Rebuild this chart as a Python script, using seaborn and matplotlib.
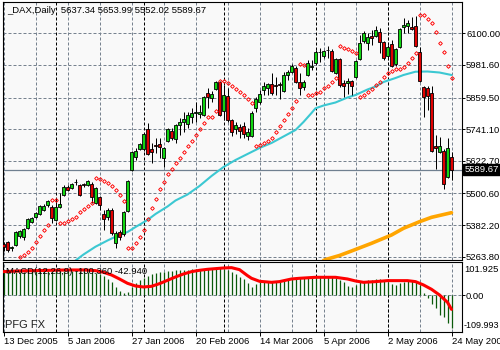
import numpy as np
import matplotlib
matplotlib.use("Agg")
import matplotlib.pyplot as plt
import seaborn as sns

# ---------------- data ----------------
chart_title = "_DAX,Daily  5637.34 5653.99 5552.02 5589.67"
macd_title = "MACD(12,26,9) -100.360 -42.940"
watermark = "PFG FX"

date_labels = ["13 Dec 2005", "5 Jan 2006", "27 Jan 2006", "20 Feb 2006",
               "14 Mar 2006", "5 Apr 2006", "2 May 2006", "24 May 2006"]
date_label_bars = [0, 16, 32, 48, 64, 80, 96, 112]
month_start_bars = [13, 35, 55, 78, 96]

open_px = [5311.3, 5317.7, 5294.5, 5306.4, 5341.3, 5337.5, 5370.1, 5393.7, 5413.5, 5423.6,
           5438.6, 5458.4, 5450.9, 5401.1, 5448.7, 5494.7, 5525.8, 5522.0, 5542.2, 5532.1,
           5534.8, 5532.1, 5535.9, 5465.9, 5488.3, 5423.6, 5413.5, 5438.6, 5313.9, 5356.2,
           5347.6, 5436.0, 5588.3, 5638.1, 5665.8, 5665.8, 5741.8, 5666.9, 5681.9, 5685.6,
           5632.1, 5698.0, 5734.3, 5704.3, 5756.7, 5766.8, 5759.4, 5787.8, 5801.6, 5799.0,
           5794.2, 5875.4, 5858.9, 5891.5, 5916.5, 5809.1, 5866.4, 5775.4, 5741.8, 5750.4,
           5754.1, 5715.6, 5716.7, 5819.2, 5844.0, 5887.7, 5894.1, 5910.2, 5906.5, 5910.2,
           5885.1, 5943.9, 5956.2, 5969.0, 5918.8, 5897.8, 5943.9, 5972.7, 5989.9, 6030.0,
           6015.0, 6036.3, 6034.8, 5952.5, 6002.6, 5912.8, 5912.8, 5921.4, 5937.5, 6002.6,
           6071.1, 6062.5, 6089.9, 6089.9, 6106.0, 6066.3, 6015.0, 6058.8, 5983.9, 6049.8,
           6124.7, 6128.4, 6122.4, 6127.3, 6031.1, 5897.8, 5895.2, 5875.4, 5679.2, 5656.8,
           5659.4, 5561.0, 5637.34]
high_px = [5320.0, 5323.7, 5305.0, 5360.0, 5363.7, 5371.2, 5406.8, 5412.4, 5432.2, 5457.3,
           5459.9, 5476.0, 5457.3, 5479.7, 5503.3, 5530.3, 5532.1, 5539.6, 5553.5, 5535.9,
           5539.6, 5550.9, 5543.4, 5524.7, 5492.8, 5438.6, 5446.1, 5446.1, 5360.0, 5363.7,
           5434.8, 5552.7, 5659.4, 5670.6, 5691.2, 5726.8, 5763.1, 5688.2, 5708.1, 5706.9,
           5674.4, 5745.5, 5744.4, 5760.5, 5781.8, 5804.3, 5805.4, 5820.4, 5843.9, 5831.6,
           5865.3, 5894.1, 5884.0, 5923.3, 5921.4, 5906.5, 5894.1, 5781.0, 5768.0, 5760.5,
           5768.0, 5745.5, 5807.3, 5861.5, 5887.7, 5918.8, 5913.9, 5950.2, 5937.5, 5918.8,
           5956.2, 5962.6, 5985.0, 5977.6, 5950.2, 5925.2, 6000.0, 6000.0, 6037.5, 6043.8,
           6037.5, 6052.4, 6041.2, 6007.5, 6007.5, 5925.2, 5931.5, 5925.2, 6000.0, 6093.6,
           6108.6, 6100.0, 6112.3, 6127.3, 6118.7, 6071.1, 6056.2, 6074.9, 6044.9, 6119.8,
           6156.1, 6149.7, 6159.8, 6165.8, 6049.8, 5902.7, 5902.7, 5902.7, 5719.3, 5713.0,
           5666.9, 5706.9, 5653.99]
low_px = [5286.2, 5282.5, 5286.2, 5303.8, 5333.8, 5326.3, 5367.5, 5389.9, 5409.7, 5419.9,
          5434.8, 5450.9, 5389.9, 5397.4, 5446.1, 5491.0, 5509.7, 5517.2, 5532.1, 5491.0,
          5524.7, 5528.4, 5464.8, 5461.0, 5438.6, 5363.7, 5401.1, 5345.0, 5295.2, 5326.3,
          5341.3, 5431.1, 5584.6, 5625.7, 5661.3, 5659.4, 5644.4, 5615.6, 5651.9, 5632.1,
          5600.6, 5693.1, 5700.6, 5688.2, 5719.3, 5731.6, 5745.5, 5764.2, 5769.1, 5782.9,
          5790.4, 5819.2, 5842.8, 5887.7, 5790.4, 5775.4, 5768.0, 5716.7, 5723.0, 5708.1,
          5708.1, 5700.6, 5711.8, 5805.4, 5835.3, 5869.0, 5869.0, 5869.0, 5869.0, 5852.9,
          5880.2, 5925.2, 5951.4, 5913.9, 5869.0, 5887.7, 5940.1, 5962.6, 5986.9, 5993.7,
          6007.5, 6006.4, 5955.1, 5947.6, 5900.8, 5862.6, 5871.6, 5869.0, 5934.5, 6000.0,
          6063.7, 6037.5, 6056.2, 6086.1, 6025.1, 6000.0, 6007.5, 5973.8, 5977.6, 6044.9,
          6101.1, 6102.2, 6112.3, 6048.7, 5919.5, 5787.8, 5812.9, 5657.5, 5590.9, 5651.9,
          5516.1, 5558.4, 5552.02]
close_px = [5300.1, 5288.9, 5300.1, 5357.3, 5360.0, 5367.5, 5403.8, 5408.6, 5427.3, 5453.5,
            5453.5, 5472.2, 5407.5, 5449.8, 5461.0, 5525.8, 5513.4, 5535.9, 5544.5, 5494.7,
            5532.9, 5547.1, 5486.1, 5519.8, 5457.3, 5404.9, 5438.6, 5351.4, 5351.4, 5336.4,
            5430.0, 5548.2, 5654.5, 5659.4, 5685.6, 5723.0, 5648.2, 5654.5, 5678.9, 5673.3,
            5669.5, 5741.8, 5709.2, 5756.7, 5766.8, 5779.2, 5794.2, 5802.8, 5804.3, 5806.5,
            5860.4, 5862.6, 5871.6, 5918.8, 5794.2, 5869.0, 5775.4, 5729.4, 5756.7, 5734.3,
            5723.0, 5731.6, 5802.8, 5852.9, 5871.6, 5902.7, 5910.2, 5877.6, 5904.2, 5908.0,
            5943.9, 5956.2, 5977.6, 5918.8, 5894.1, 5918.8, 5989.9, 5978.7, 6031.1, 6031.8,
            6033.7, 6038.2, 5960.0, 6002.6, 5906.5, 5902.7, 5921.4, 5903.8, 5996.3, 6062.5,
            6100.0, 6085.0, 6081.2, 6112.3, 6068.5, 6006.4, 6049.8, 5977.6, 6041.2, 6114.9,
            6131.0, 6139.6, 6114.9, 6053.5, 5922.5, 5860.4, 5865.3, 5660.5, 5669.5, 5679.2,
            5534.8, 5669.5, 5589.67]

# Parabolic SAR (first few points fall below the visible price range)
sar_px = [None, None, None, None, 5261.5, 5269.0, 5282.5, 5298.2, 5318.8, 5340.1,
          5362.6, 5382.4, 5476.0, 5474.9, 5391.0, 5391.0, 5398.5, 5404.9, 5413.5, 5431.1,
          5443.4, 5453.5, 5463.6, 5557.2, 5553.5, 5547.1, 5538.5, 5529.2, 5515.3, 5494.7,
          5471.2, 5295.2, 5297.4, 5316.2, 5338.6, 5363.7, 5404.9, 5444.9, 5480.9, 5516.0,
          5544.5, 5572.2, 5592.0, 5613.4, 5632.1, 5654.5, 5678.1, 5697.9, 5720.4, 5741.8,
          5763.1, 5785.6, 5786.7, 5809.1, 5923.3, 5920.7, 5915.8, 5902.7, 5891.5, 5880.2,
          5867.2, 5854.0, 5840.9, 5678.1, 5683.7, 5689.4, 5696.8, 5709.9, 5728.7, 5753.0,
          5775.4, 5797.9, 5819.2, 5846.6, 5985.0, 5981.3, 5869.0, 5869.0, 5875.4, 5881.4,
          5894.1, 5903.8, 5918.8, 5931.5, 6052.4, 6046.1, 6040.1, 6033.7, 6027.3, 5862.6,
          5869.0, 5880.2, 5893.3, 5906.5, 5918.8, 5935.3, 5950.2, 5958.9, 5964.5, 5968.2,
          5975.0, 5989.9, 6006.4, 6025.1, 6168.4, 6167.3, 6152.4, 6137.4, 6106.0, 6065.5,
          6028.8, 5977.6, 5931.5]

ma_fast_bars = [18, 20, 23, 26, 28, 31, 33, 36, 38, 41, 43, 46, 49, 52, 55, 58, 61, 64, 67,
                70, 73, 75, 77, 78, 80, 83, 86, 88, 91, 93, 95, 98, 100, 103, 106, 109, 112]
ma_fast = [5249.5, 5272.0, 5301.2, 5324.4, 5338.6, 5356.2, 5374.9, 5401.1, 5423.6, 5451.7,
           5474.1, 5496.6, 5528.4, 5565.8, 5599.5, 5625.7, 5648.2, 5670.6, 5689.4, 5713.7,
           5738.0, 5768.0, 5801.6, 5819.2, 5829.7, 5841.0, 5859.7, 5869.0, 5889.6, 5900.8,
           5917.7, 5932.6, 5943.9, 5956.2, 5957.0, 5953.2, 5943.9]

ma_slow_bars = [80, 81, 84, 87, 92, 97, 100, 104, 107, 112]
ma_slow = [5249.6, 5255.2, 5268.3, 5285.1, 5313.9, 5345.0, 5370.1, 5394.8, 5411.2, 5428.5]

macd_main = [69.2, 69.2, 69.2, 70.2, 71.2, 71.2, 72.2, 72.2, 73.3, 73.3,
             73.3, 73.3, 72.2, 72.2, 73.3, 74.3, 74.3, 74.3, 74.3, 73.3,
             72.2, 71.2, 69.2, 67.2, 63.2, 57.1, 49.0, 38.9, 25.8, 12.7,
             5.7, 10.7, 25.8, 35.9, 46.0, 53.1, 59.1, 63.2, 66.2, 69.2,
             71.2, 73.3, 74.3, 75.3, 76.3, 77.3, 77.3, 78.3, 79.3, 79.3,
             80.3, 81.3, 81.3, 81.3, 81.3, 79.3, 76.3, 69.2, 63.2, 56.1,
             49.0, 35.9, 25.8, 32.9, 41.0, 43.0, 44.0, 44.0, 43.0, 43.0,
             47.0, 50.0, 52.1, 54.1, 53.1, 51.1, 53.1, 55.1, 56.1, 57.1,
             57.1, 57.1, 55.1, 53.1, 46.0, 38.9, 28.9, 25.8, 30.9, 38.9,
             43.0, 45.0, 46.0, 48.0, 49.0, 45.0, 41.0, 32.9, 30.9, 35.9,
             41.0, 43.0, 43.0, 41.0, 30.9, 5.7, -7.5, -27.7, -37.7, -59.9,
             -65.0, -85.2, -100.36]

signal_bars = [0, 4, 8, 12, 16, 20, 23, 25, 27, 29, 31, 33, 35, 37, 39, 41, 43, 45, 47, 49,
               51, 53, 55, 57, 59, 61, 62, 64, 67, 69, 72, 74, 78, 83, 86, 88, 90, 93, 96,
               101, 103, 105, 107, 109, 111, 112]
macd_signal = [71.2, 73.3, 74.3, 75.3, 76.3, 76.3, 74.3, 69.2, 61.1, 49.0, 35.9, 27.8, 24.8,
               26.8, 34.9, 45.0, 55.1, 64.2, 71.2, 75.3, 78.3, 80.3, 82.3, 83.3, 77.3, 59.1,
               51.1, 42.0, 38.9, 41.0, 49.0, 51.1, 54.1, 54.1, 49.0, 43.0, 38.9, 41.0, 44.0,
               44.0, 41.0, 30.9, 17.8, 0.6, -21.6, -42.94]

price_ticks = [5263.8, 5382.2, 5500.6, 5622.7, 5741.1, 5859.5, 5981.6, 6100.0]
macd_ticks = [101.925, 0.0, -109.993]
last_price = 5589.67

# ---------------- style ----------------
sns.set_theme(style="white")
plt.rcParams["font.family"] = ["Liberation Sans", "DejaVu Sans"]
FS = 6.8
GRID = "#77828f"
BULL = "#12d612"
BEAR = "#e00000"
PANEL_BG = "#f9f9f9"
DASH = (0, (3, 2))

W, H = 500, 350
fig = plt.figure(figsize=(W / 100, H / 100), dpi=100, facecolor="white")


def rect(x0, y0, x1, y1):
    return [x0 / W, 1 - y1 / H, (x1 - x0) / W, (y1 - y0) / H]


ax = fig.add_axes(rect(2.5, 1.5, 461.5, 259.5))
axm = fig.add_axes(rect(2.5, 261.5, 461.5, 331.5))

n = len(close_px)
xs = np.arange(n)

for a in (ax, axm):
    a.set_facecolor(PANEL_BG)
    for s in a.spines.values():
        s.set_color("black")
        s.set_linewidth(0.8)
    a.set_xlim(-0.25, 114.5)
    for g in range(0, n, 8):
        a.axvline(g, color=GRID, ls=DASH, lw=0.72, zorder=0.5)
    for m in month_start_bars:
        a.axvline(m, color="black", ls=DASH, lw=0.72, zorder=0.6)

# ---------------- price panel ----------------
ax.set_ylim(5253.3, 6219.0)
ax.yaxis.tick_right()
ax.set_yticks(price_ticks)
ax.set_yticklabels([f"{v:.2f}" for v in price_ticks])
ax.tick_params(axis="y", direction="out", length=2.5, width=0.7, pad=0.8,
               labelsize=FS, colors="black")
ax.tick_params(axis="x", bottom=False, labelbottom=False)
for v in price_ticks:
    ax.axhline(v, color=GRID, ls=DASH, lw=0.72, zorder=0.5)

ax.axhline(last_price, color="#708090", lw=0.9, zorder=1.5)

sns.lineplot(x=ma_fast_bars, y=ma_fast, ax=ax, color="#3cc8d2", linewidth=1.5,
             legend=False, zorder=2)
sns.lineplot(x=ma_slow_bars, y=ma_slow, ax=ax, color="#ffa500", linewidth=2.6,
             legend=False, zorder=2)

o = np.array(open_px)
h = np.array(high_px)
l = np.array(low_px)
c = np.array(close_px)
ax.vlines(xs, l, h, color="black", lw=0.72, zorder=3)
bottoms = np.minimum(o, c)
heights = np.maximum(np.abs(c - o), 0.8)
colors = np.where(c >= o, BULL, BEAR)
ax.bar(xs, heights, bottom=bottoms, width=0.78, color=colors,
       edgecolor="black", linewidth=0.6, zorder=4)

sar = np.array([np.nan if v is None else v for v in sar_px], dtype=float)
ax.plot(xs, sar, ls="none", marker="D", ms=1.9, mfc="none", mec="#ff0000",
        mew=0.65, zorder=5)

ax.annotate(f"{last_price:.2f}", xy=(1, last_price),
            xycoords=("axes fraction", "data"), xytext=(2.2, 0),
            textcoords="offset points", ha="left", va="center",
            color="white", fontsize=FS, annotation_clip=False, zorder=10,
            bbox=dict(boxstyle="square,pad=0.12", fc="black", ec="black"))

fig.text(7 / W, 1 - 10.5 / H, chart_title, ha="left", va="center",
         fontsize=FS, color="black")

# ---------------- MACD panel ----------------
axm.set_ylim(macd_ticks[2], macd_ticks[0])
axm.axhline(0, color=GRID, ls=DASH, lw=0.72, zorder=0.5)
axm.vlines(xs, 0, macd_main, color="#0a5a0a", lw=0.9, zorder=2)
sns.lineplot(x=signal_bars, y=macd_signal, ax=axm, color="#ff0000",
             linewidth=2.2, legend=False, zorder=3)

axm.yaxis.tick_right()
axm.set_yticks([0])
axm.set_yticklabels(["0.00"])
axm.tick_params(axis="y", direction="out", length=2.5, width=0.7, pad=0.8,
                labelsize=FS, colors="black")
axm.annotate(f"{macd_ticks[0]:.3f}", xy=(1, macd_ticks[0]),
             xycoords=("axes fraction", "data"), xytext=(2.3, -5.4),
             textcoords="offset points", ha="left", va="center",
             fontsize=FS, color="black", annotation_clip=False)
axm.annotate(f"{macd_ticks[2]:.3f}", xy=(1, macd_ticks[2]),
             xycoords=("axes fraction", "data"), xytext=(1.2, 4.2),
             textcoords="offset points", ha="left", va="center",
             fontsize=6.5, color="black", annotation_clip=False)

axm.set_xticks(date_label_bars)
axm.set_xticklabels(date_labels, ha="left")
axm.tick_params(axis="x", direction="out", length=3, width=0.7, pad=1.2,
                labelsize=FS, colors="black", bottom=True)

fig.text(6 / W, 1 - 271 / H, macd_title, ha="left", va="center",
         fontsize=FS, color="black")
fig.text(5 / W, 1 - 325.5 / H, watermark, ha="left", va="center",
         fontsize=8, color="#202020")

fig.savefig("out.png", dpi=100, facecolor="white")
